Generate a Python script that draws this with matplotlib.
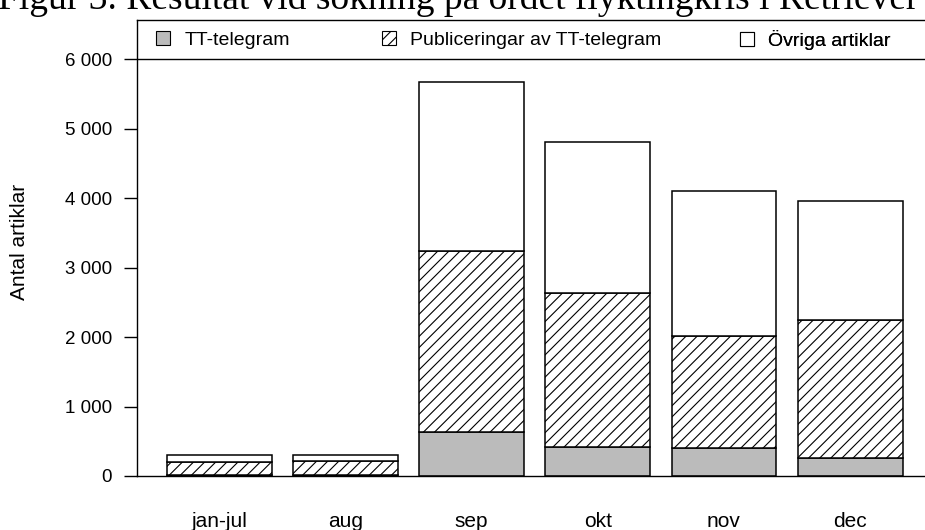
import matplotlib
matplotlib.use("Agg")
import matplotlib.pyplot as plt
from matplotlib.patches import Patch

months = ["jan-jul", "aug", "sep", "okt", "nov", "dec"]
tt = [20, 20, 638, 423, 399, 259]
pub_tt = [182, 200, 2609, 2209, 1614, 1994]
ovriga = [101, 83, 2426, 2185, 2089, 1710]

series_names = ["TT-telegram", "Publiceringar av TT-telegram", "Övriga artiklar"]

plt.rcParams['font.family'] = ['Liberation Sans', 'DejaVu Sans']
plt.rcParams['hatch.linewidth'] = 0.8
plt.rcParams['hatch.color'] = '#444444'

fig = plt.figure(figsize=(9.25, 5.3), dpi=100)
ax = fig.add_axes([137 / 925, 1 - 476 / 530, 788 / 925, 456 / 530])

x = list(range(len(months)))
w = 0.83
bottom2 = tt
bottom3 = [a + b for a, b in zip(tt, pub_tt)]

ax.bar(x, tt, w, color="#bbbbbb", edgecolor="black", linewidth=1.1)
ax.bar(x, pub_tt, w, bottom=bottom2, color="white", edgecolor="black", hatch="///",
       linewidth=1.1)
ax.bar(x, ovriga, w, bottom=bottom3, color="white", edgecolor="black", linewidth=1.1)

ax.set_xlim(-0.651, 5.593)
ax.set_ylim(0, 6569)
ax.axhline(6000, color="black", linewidth=1.0)

yt = [0, 1000, 2000, 3000, 4000, 5000, 6000]
ax.set_yticks(yt)
ax.set_yticklabels(["{:,}".format(v).replace(",", " ") for v in yt], fontsize=13.5)
ax.tick_params(axis="y", length=9.4, width=1.0, pad=8.5)
ax.set_xticks(x)
ax.set_xticklabels(months, fontsize=15)
ax.tick_params(axis="x", length=0, pad=26)

ax.spines["right"].set_visible(False)
for s in ["left", "bottom", "top"]:
    ax.spines[s].set_linewidth(1.0)

handles = [
    Patch(facecolor="#bbbbbb", edgecolor="black", linewidth=0.8),
    Patch(facecolor="white", edgecolor="black", hatch="///", linewidth=0.8),
    Patch(facecolor="white", edgecolor="black", linewidth=0.8),
]
# one legend per entry so each sits where the reference has it
leg_x = [156, 382, 740]
for h, name, px in zip(handles, series_names, leg_x):
    leg = ax.legend([h], [name], loc="center left",
                    bbox_to_anchor=((px - 137) / 788, (476 - 40) / 456),
                    frameon=False, fontsize=14, handlelength=0.7, handleheight=0.7,
                    handletextpad=0.75, borderpad=0, borderaxespad=0)
    ax.add_artist(leg)

fig.text(20 / 925, 1 - 242 / 530, "Antal artiklar", rotation=90, fontsize=15,
         ha="center", va="center")

# title sits partly above the top edge, as in the reference crop
fig.text(-0.002, 1 - 9 / 530, "Figur 3. Resultat vid sökning på ordet flyktingkris i Retriever",
         family="Liberation Serif", fontsize=27, ha="left", va="baseline")

fig.savefig("out.png", dpi=100)
